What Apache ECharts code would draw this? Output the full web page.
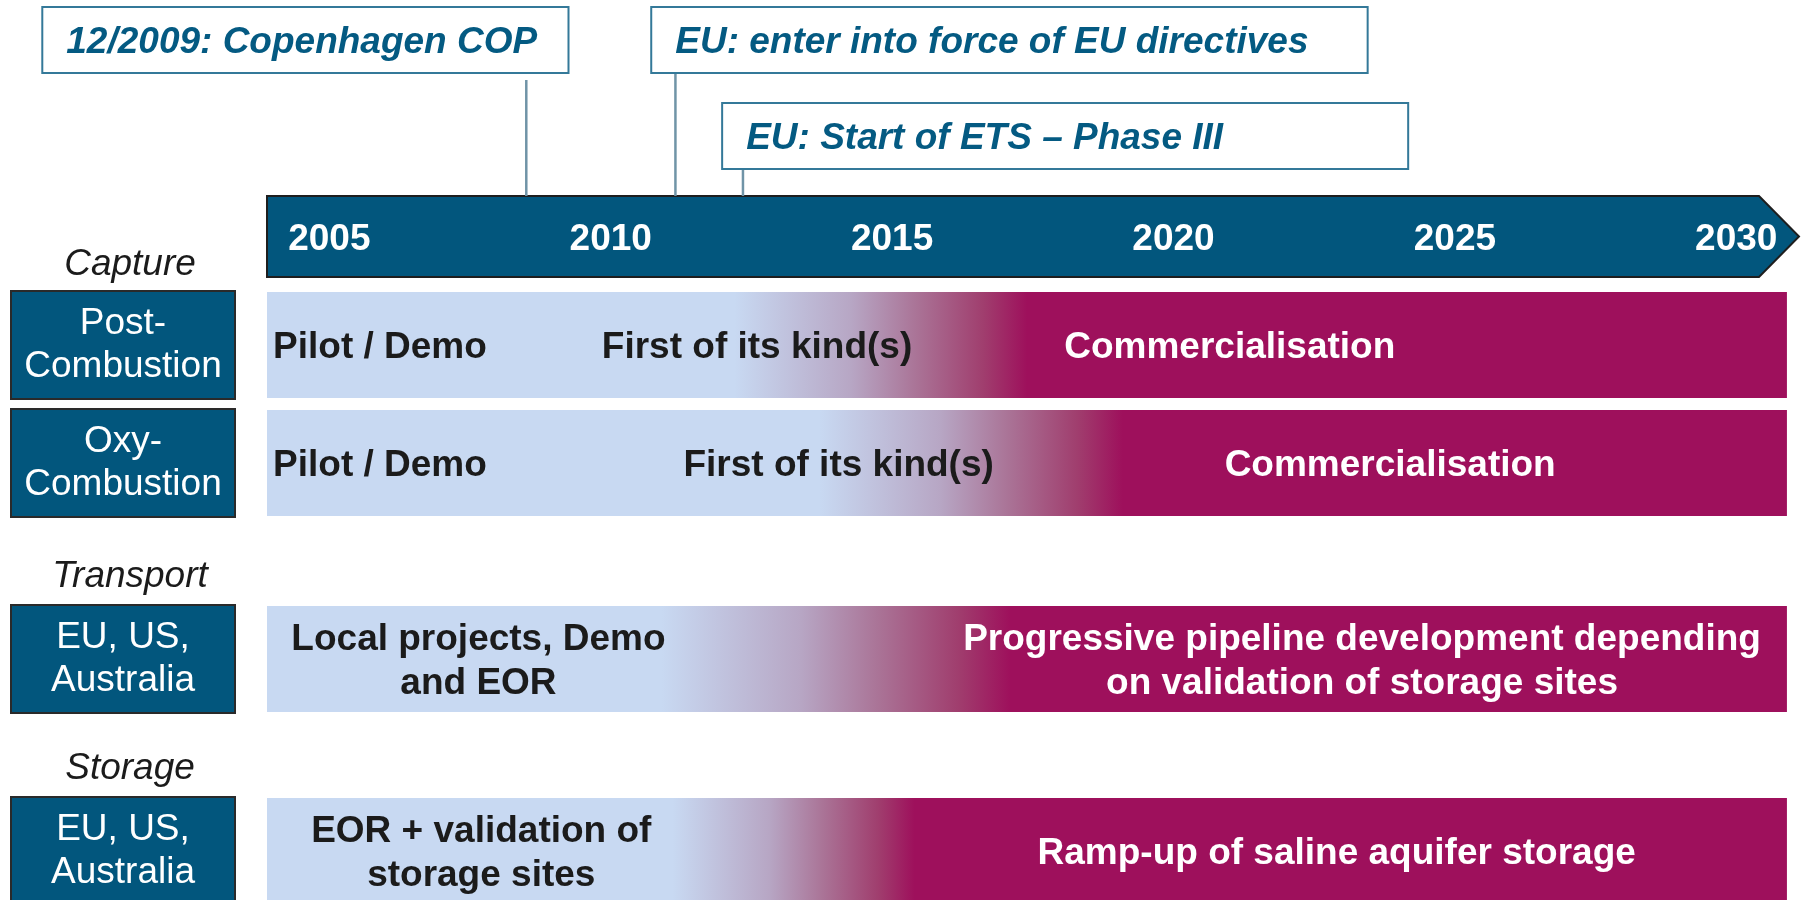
<!DOCTYPE html>
<html>
<head>
<meta charset="utf-8">
<title>CCS roadmap</title>
<script src="https://cdn.jsdelivr.net/npm/echarts@6/dist/echarts.min.js"></script>
<style>
  html, body { margin: 0; padding: 0; background: #fff; }
  #chart { width: 1801px; height: 900px; }
</style>
</head>
<body>
<div id="chart"></div>
<script>
// --- data ---
const years = [2005, 2010, 2015, 2020, 2025, 2030];
const sectionNames = ['Capture', 'Transport', 'Storage'];
const rowNames = ['Post-\nCombustion', 'Oxy-\nCombustion', 'EU, US,\nAustralia', 'EU, US,\nAustralia'];

// where each bar fades from light blue to magenta (years)
const fadeStart = [2012.2, 2013.7, 2010.9, 2011.1];
const fadeEnd = [2017.4, 2019.1, 2017.1, 2015.4];

const earlyPhase = ['Pilot / Demo', 'Pilot / Demo', 'Local projects, Demo\nand EOR', 'EOR + validation of\nstorage sites'];
const earlyPhaseYear = [2005.9, 2005.9, 2007.65, 2007.7];
const firstKind = ['First of its kind(s)', 'First of its kind(s)', '', ''];
const firstKindYear = [2012.6, 2014.05, null, null];
const latePhase = ['Commercialisation', 'Commercialisation',
  'Progressive pipeline development depending\non validation of storage sites',
  'Ramp-up of saline aquifer storage'];
const latePhaseYear = [2021.0, 2023.85, 2023.35, 2022.9];

const events = ['12/2009: Copenhagen COP', 'EU: enter into force of EU directives', 'EU: Start of ETS \u2013 Phase III'];
const eventYears = [2008.5, 2011.15, 2012.35];

// --- layout (vertical units = pixels from the top) ---
const axisMin = 2003.875, axisMax = 2031.15;
const rowEnd = 2030.9;
const timelineTop = 196, timelineBottom = 277;
const rowCenter = [345, 463, 659, 851];
const rowHalf = 53;
const sectionY = [265, 577, 769];
const eventBoxFrom = [1999.9, 2010.72, 2011.98];
const eventBoxTo = [2009.25, 2023.45, 2024.17];
const eventBoxTop = [7, 7, 103];
const eventBoxBottom = [73, 73, 169];
const eventLineTop = [80, 73, 169];

const FONT = '"Liberation Sans", Arial, Helvetica, sans-serif';
const navy = '#02567d';
const lightBlue = '#c8d9f2';
const magenta = '#9e105c';
const fadeStops = [
  { offset: 0, color: lightBlue },
  { offset: 0.4, color: '#b7a6c4' },
  { offset: 0.62, color: '#aa7497' },
  { offset: 0.85, color: '#a03e6e' },
  { offset: 1, color: magenta }
];

const chart = echarts.init(document.getElementById('chart'));

function renderTimeline(params, api) {
  const p0 = api.coord([axisMin, timelineTop]);
  const p1 = api.coord([axisMax, timelineBottom]);
  const tip = p1[0] - 2;
  const body = tip - 40;
  const mid = (p0[1] + p1[1]) / 2;
  return {
    type: 'polygon',
    shape: { points: [[p0[0] + 1, p0[1]], [body, p0[1]], [tip, mid], [body, p1[1]], [p0[0] + 1, p1[1]]] },
    style: { fill: navy, stroke: '#1e1e1e', lineWidth: 2 }
  };
}

function renderEvent(params, api) {
  const i = params.dataIndex;
  const b0 = api.coord([eventBoxFrom[i], eventBoxTop[i]]);
  const b1 = api.coord([eventBoxTo[i], eventBoxBottom[i]]);
  const lx = api.coord([eventYears[i], eventLineTop[i]]);
  const lb = api.coord([eventYears[i], timelineTop]);
  return {
    type: 'group',
    children: [
      {
        type: 'line',
        shape: { x1: lx[0], y1: lx[1], x2: lb[0], y2: lb[1] },
        style: { stroke: '#7094a7', lineWidth: 2.5 }
      },
      {
        type: 'rect',
        shape: { x: b0[0], y: b0[1], width: b1[0] - b0[0], height: b1[1] - b0[1] },
        style: { fill: '#fff', stroke: '#347999', lineWidth: 2 }
      },
      {
        type: 'text',
        x: b0[0] + 24,
        y: (b0[1] + b1[1]) / 2 + 3,
        style: {
          text: events[i], fill: '#045a82', fontFamily: FONT, fontSize: 37,
          fontWeight: 'bold', fontStyle: 'italic', align: 'left', verticalAlign: 'middle'
        }
      }
    ]
  };
}

function phaseText(api, text, year, y, color) {
  const p = api.coord([year, y]);
  return {
    type: 'text',
    x: p[0],
    y: p[1] + 3,
    style: {
      text: text, fill: color, fontFamily: FONT, fontSize: 37, fontWeight: 'bold',
      align: 'center', verticalAlign: 'middle', lineHeight: 44
    }
  };
}

function renderRow(params, api) {
  const i = params.dataIndex;
  const c = rowCenter[i];
  const p0 = api.coord([axisMin, c - rowHalf]);
  const p1 = api.coord([rowEnd, c + rowHalf]);
  const g0 = api.coord([fadeStart[i], c])[0];
  const g1 = api.coord([fadeEnd[i], c])[0];
  const children = [{
    type: 'rect',
    shape: { x: p0[0] + 1, y: p0[1], width: p1[0] - p0[0] - 1, height: p1[1] - p0[1] },
    style: { fill: new echarts.graphic.LinearGradient(g0, 0, g1, 0, fadeStops, true) }
  }];
  children.push(phaseText(api, earlyPhase[i], earlyPhaseYear[i], c, '#1b1b1b'));
  if (firstKind[i]) children.push(phaseText(api, firstKind[i], firstKindYear[i], c, '#1b1b1b'));
  children.push(phaseText(api, latePhase[i], latePhaseYear[i], c, '#ffffff'));
  return { type: 'group', children: children };
}

const option = {
  animation: false,
  backgroundColor: '#fff',
  grid: { left: 266, right: 0, top: 0, bottom: 0, containLabel: false, outerBoundsMode: 'none' },
  xAxis: {
    type: 'value',
    min: axisMin,
    max: axisMax,
    position: 'top',
    offset: -240,
    z: 10,
    axisLine: { show: false },
    axisTick: { show: false },
    splitLine: { show: false },
    axisLabel: {
      customValues: years,
      formatter: v => String(v),
      margin: 0,
      verticalAlign: 'middle',
      color: '#fff',
      fontFamily: FONT,
      fontSize: 37,
      fontWeight: 'bold'
    }
  },
  yAxis: [
    {
      type: 'value',
      inverse: true,
      min: 0,
      max: 900,
      axisLine: { show: false },
      axisTick: { show: false },
      splitLine: { show: false },
      axisLabel: {
        customValues: rowCenter,
        formatter: v => rowNames[rowCenter.indexOf(v)],
        margin: 143,
        align: 'center',
        width: 222,
        padding: [14, 0, 6, 0],
        lineHeight: 43,
        color: '#fff',
        fontFamily: FONT,
        fontSize: 37,
        backgroundColor: navy,
        borderColor: '#2a2a2a',
        borderWidth: 2
      }
    },
    {
      type: 'value',
      inverse: true,
      min: 0,
      max: 900,
      position: 'left',
      axisLine: { show: false },
      axisTick: { show: false },
      splitLine: { show: false },
      axisLabel: {
        customValues: sectionY,
        formatter: v => sectionNames[sectionY.indexOf(v)],
        margin: 136,
        align: 'center',
        color: '#1b1b1b',
        fontFamily: FONT,
        fontSize: 37,
        fontStyle: 'italic'
      }
    }
  ],
  series: [
    {
      type: 'custom',
      name: 'timeline',
      clip: false,
      renderItem: renderTimeline,
      data: [[axisMin, timelineTop]]
    },
    {
      type: 'custom',
      name: 'events',
      clip: false,
      renderItem: renderEvent,
      data: eventYears.map((yr, i) => [yr, eventBoxTop[i]])
    },
    {
      type: 'custom',
      name: 'rows',
      clip: false,
      renderItem: renderRow,
      data: rowCenter.map((c, i) => [fadeStart[i], c])
    }
  ]
};

chart.setOption(option);
</script>
</body>
</html>
